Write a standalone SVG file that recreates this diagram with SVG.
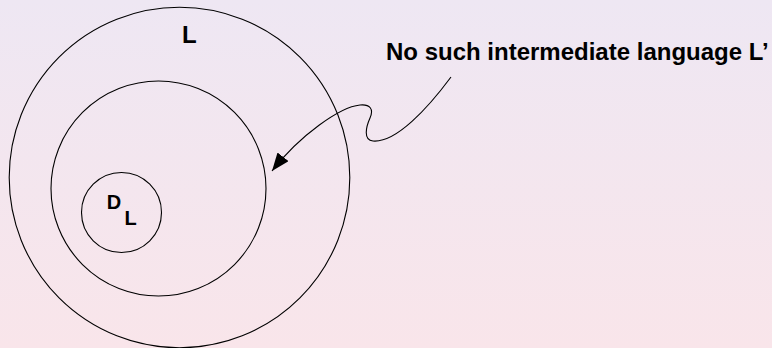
<svg xmlns="http://www.w3.org/2000/svg" width="772" height="348" viewBox="0 0 772 348">
  <defs>
    <linearGradient id="bg" x1="0" y1="0" x2="0" y2="1">
      <stop offset="0" stop-color="#eee7f3"/>
      <stop offset="1" stop-color="#f9e5ea"/>
    </linearGradient>
    <marker id="head" markerUnits="userSpaceOnUse" markerWidth="18" markerHeight="14" refX="18" refY="7" orient="auto">
      <path d="M0,0 L18,7 L0,14 z" fill="#000"/>
    </marker>
    <style>
      .ring { fill: none; stroke: #000; stroke-width: 1.1; }
      .lbl { font-family: "Liberation Sans", Arial, sans-serif; font-weight: bold; fill: #000; }
      .conn { fill: none; stroke: #000; stroke-width: 1.1; }
    </style>
  </defs>
  <rect x="0" y="0" width="772" height="348" fill="url(#bg)"/>
  <g id="outer">
    <circle class="ring" cx="179.5" cy="177.5" r="170.3"/>
    <text class="lbl" x="182" y="43.3" font-size="24">L</text>
  </g>
  <g id="middle">
    <circle class="ring" cx="158.5" cy="188.5" r="107.5"/>
  </g>
  <g id="inner">
    <circle class="ring" cx="121.5" cy="212.5" r="40"/>
    <text class="lbl" x="106.8" y="208.5" font-size="20">D</text>
    <text class="lbl" x="124.5" y="224.5" font-size="20">L</text>
  </g>
  <g id="note">
    <text class="lbl" x="386" y="60" font-size="24">No such intermediate language L’</text>
  </g>
  <g id="connectors">
    <path class="conn" d="M451,77 C428,108 396,143 373,141 C363,140 366,127 370,118 C374,109 370,104 360,105 C340,107 300,135 272,171" marker-end="url(#head)"/>
  </g>
</svg>
